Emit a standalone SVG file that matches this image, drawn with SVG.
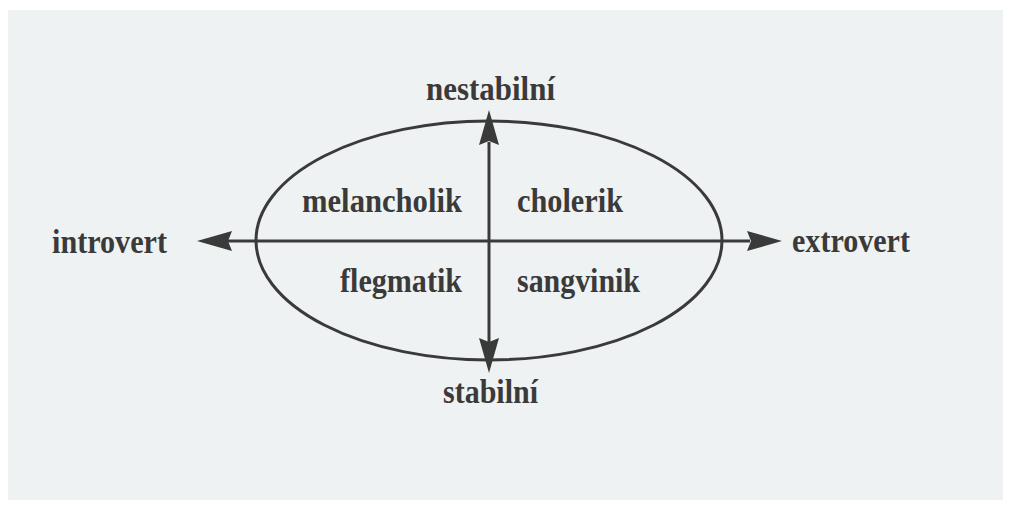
<svg xmlns="http://www.w3.org/2000/svg" width="1011" height="506" viewBox="0 0 1011 506">
  <style>
    .lbl { font-family: "Liberation Serif", "Times New Roman", serif; font-weight: bold; font-size: 33px; fill: #3b3a3a; }
    .line { stroke: #3b3a3a; stroke-width: 3; fill: none; }
    .head { fill: #3b3a3a; stroke: none; }
  </style>
  <rect x="0" y="0" width="1011" height="506" fill="#ffffff"/>
  <rect x="8" y="10" width="995" height="490" fill="#eff2f2"/>

  <g id="ellipse-node">
    <ellipse class="line" cx="489" cy="240.5" rx="233" ry="119.5"/>
  </g>

  <g id="connectors">
    <line class="line" x1="228" y1="241" x2="750" y2="241"/>
    <line class="line" x1="489" y1="142" x2="489" y2="342"/>
    <path class="head" d="M197,241 L232,231 L228,241 L232,251 Z"/>
    <path class="head" d="M782,241 L747,231 L751,241 L747,251 Z"/>
    <path class="head" d="M489,110 L499,145 L489,141 L479,145 Z"/>
    <path class="head" d="M489,373 L499,338 L489,342 L479,338 Z"/>
  </g>

  <g id="nestabilni"><text class="lbl" x="426" y="100" textLength="129" lengthAdjust="spacingAndGlyphs">nestabilní</text></g>
  <g id="stabilni"><text class="lbl" x="443" y="403" textLength="95" lengthAdjust="spacingAndGlyphs">stabilní</text></g>
  <g id="introvert"><text class="lbl" x="52" y="253" textLength="115" lengthAdjust="spacingAndGlyphs">introvert</text></g>
  <g id="extrovert"><text class="lbl" x="792" y="252" textLength="118" lengthAdjust="spacingAndGlyphs">extrovert</text></g>
  <g id="melancholik"><text class="lbl" x="302" y="212" textLength="160" lengthAdjust="spacingAndGlyphs">melancholik</text></g>
  <g id="cholerik"><text class="lbl" x="517" y="212" textLength="106" lengthAdjust="spacingAndGlyphs">cholerik</text></g>
  <g id="flegmatik"><text class="lbl" x="340" y="292" textLength="122" lengthAdjust="spacingAndGlyphs">flegmatik</text></g>
  <g id="sangvinik"><text class="lbl" x="517" y="292" textLength="123" lengthAdjust="spacingAndGlyphs">sangvinik</text></g>
</svg>
